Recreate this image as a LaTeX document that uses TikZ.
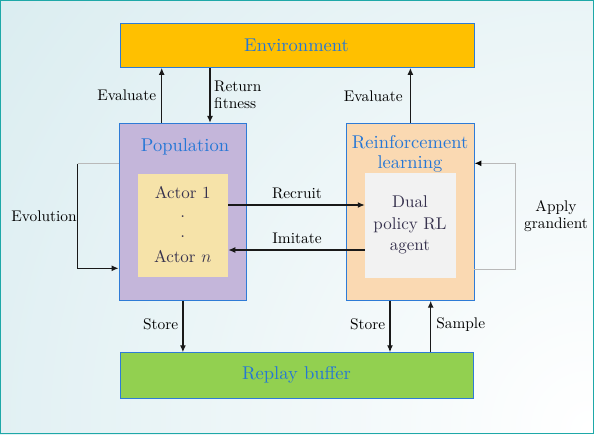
\documentclass[tikz,border=0pt]{standalone}
\usepackage{fontspec}
\setmainfont{lmroman10}[Extension=.otf, UprightFont=*-regular, ItalicFont=*-italic, BoldFont=*-bold]
\usetikzlibrary{arrows.meta,calc}
\definecolor{bgc}{RGB}{205,230,235}
\definecolor{framec}{RGB}{30,168,168}
\definecolor{envc}{RGB}{255,192,0}
\definecolor{popc}{RGB}{196,182,218}
\definecolor{actc}{RGB}{246,227,169}
\definecolor{rlc}{RGB}{250,217,178}
\definecolor{dualc}{RGB}{242,242,242}
\definecolor{repc}{RGB}{146,208,80}
\definecolor{bluet}{RGB}{36,118,214}
\definecolor{boxln}{RGB}{46,123,214}
\definecolor{innert}{RGB}{55,50,78}
\definecolor{grayln}{RGB}{185,185,185}
\newcommand\fA{\fontsize{18.5}{20}\selectfont}
\newcommand\fB{\fontsize{17}{21.7}\selectfont}
\newcommand\fC{\fontsize{15.4}{16.7}\selectfont}
\tikzset{
  box/.style={draw=boxln, line width=0.8pt, inner sep=0pt, rectangle},
  innerbox/.style={inner sep=0pt, rectangle},
  title/.style={text=bluet, font=\fA, inner sep=0pt, align=center},
  intext/.style={text=innert, font=\fB, inner sep=0pt, align=center},
  lab/.style={text=black, font=\fC, inner sep=0pt, align=center},
  arr/.style={draw=black!90, line width=1.3pt, -{Latex[length=7pt,width=6pt]}},
  grayl/.style={draw=grayln, line width=1.3pt},
}
\begin{document}
\begin{tikzpicture}[x=1pt,y=-1pt]
\useasboundingbox (0,0) rectangle (594,434);
\begin{scope}
\clip (0,0) rectangle (594,434);
\fill[bgc] (0,0) rectangle (594,434);
\shade[inner color=white, outer color=bgc] (590,430) circle (1000);
\end{scope}
\draw[framec, line width=1.2pt] (0.6,0.6) rectangle (593.4,433.4);
% boxes
\node[box, fill=envc, minimum width=354pt, minimum height=44.5pt] (env) at (297,45.2) {};
\node[box, fill=popc, minimum width=127.7pt, minimum height=177.2pt] (pop) at (182.9,211.9) {};
\node[innerbox, fill=actc, minimum width=90.3pt, minimum height=103.3pt] (actor) at (182.9,225.7) {};
\node[box, fill=rlc, minimum width=127.3pt, minimum height=177pt] (rl) at (410.4,211.8) {};
\node[innerbox, fill=dualc, minimum width=91pt, minimum height=104.4pt] (dual) at (410.5,225.5) {};
\node[box, fill=repc, minimum width=353.5pt, minimum height=45.6pt] (rep) at (296.8,375.5) {};
% titles
\node[title] (envt) at (296.5,45) {Environment};
\node[title] (popt) at (185,147) {Population};
\node[title] (rlt) at (410,153.5) {Reinforcement\\learning};
\node[title] (rept) at (296.5,375) {Replay buffer};
% inner texts
\node[intext] (a1) at (182.7,192.7) {Actor 1};
\node[intext] (d1) at (182.7,216.5) {.};
\node[intext] (d2) at (182.7,236.5) {.};
\node[intext] (an) at (182.7,256.7) {Actor $n$};
\node[intext] (dualt) at (410,225) {Dual\\policy RL\\agent};
% connectors
\coordinate (evp) at ($(pop.north)+(-21.2,0)$);
\draw[arr] (evp) -- (evp |- env.south);
\coordinate (rfe) at ($(pop.north)+(27.1,0)$);
\draw[arr] (rfe |- env.south) -- (rfe);
\draw[arr] (rl.north) -- (rl.north |- env.south);
\coordinate (rc) at ($(actor.east)+(0,-20.7)$);
\draw[arr] (rc) -- (rc -| dual.west);
\coordinate (im) at ($(dual.west)+(0,24.5)$);
\draw[arr] (im) -- (im -| actor.east);
\draw[arr] (pop.south) -- (pop.south |- rep.north);
\coordinate (st) at ($(rl.south)+(-20.4,0)$);
\draw[arr] (st) -- (st |- rep.north);
\coordinate (sm) at ($(rl.south)+(20.3,0)$);
\draw[arr] (sm |- rep.north) -- (sm);
\coordinate (ap1) at ($(rl.east)+(0,57.5)$);
\coordinate (ap2) at ($(rl.east)+(0,-48.5)$);
\draw[grayl, -{Latex[length=7pt,width=6pt,color=black]}] (ap1) -- ++(41,0) |- (ap2);
\coordinate (ev1) at ($(pop.west)+(0,-48.2)$);
\coordinate (ev2) at ($(pop.west)+(0,56.4)$);
\draw[grayl] (ev1) -- ++(-41,0) coordinate (evc);
\draw[arr] (evc) |- (ev2);
% labels
\node[lab] (l1) at (126.7,95.7) {Evaluate};
\node[lab, align=left, anchor=west] (l2) at (214,95) {Return\\fitness};
\node[lab] (l3) at (373.3,96) {Evaluate};
\node[lab] (l4) at (297,193.5) {Recruit};
\node[lab] (l5) at (297,238.5) {Imitate};
\node[lab] (l6) at (44,216) {Evolution};
\node[lab] (l7) at (556,216) {Apply\\grandient};
\node[lab] (l8) at (160.7,324) {Store};
\node[lab] (l9) at (367.7,324) {Store};
\node[lab] (l10) at (460.7,325) {Sample};
\end{tikzpicture}
\end{document}
